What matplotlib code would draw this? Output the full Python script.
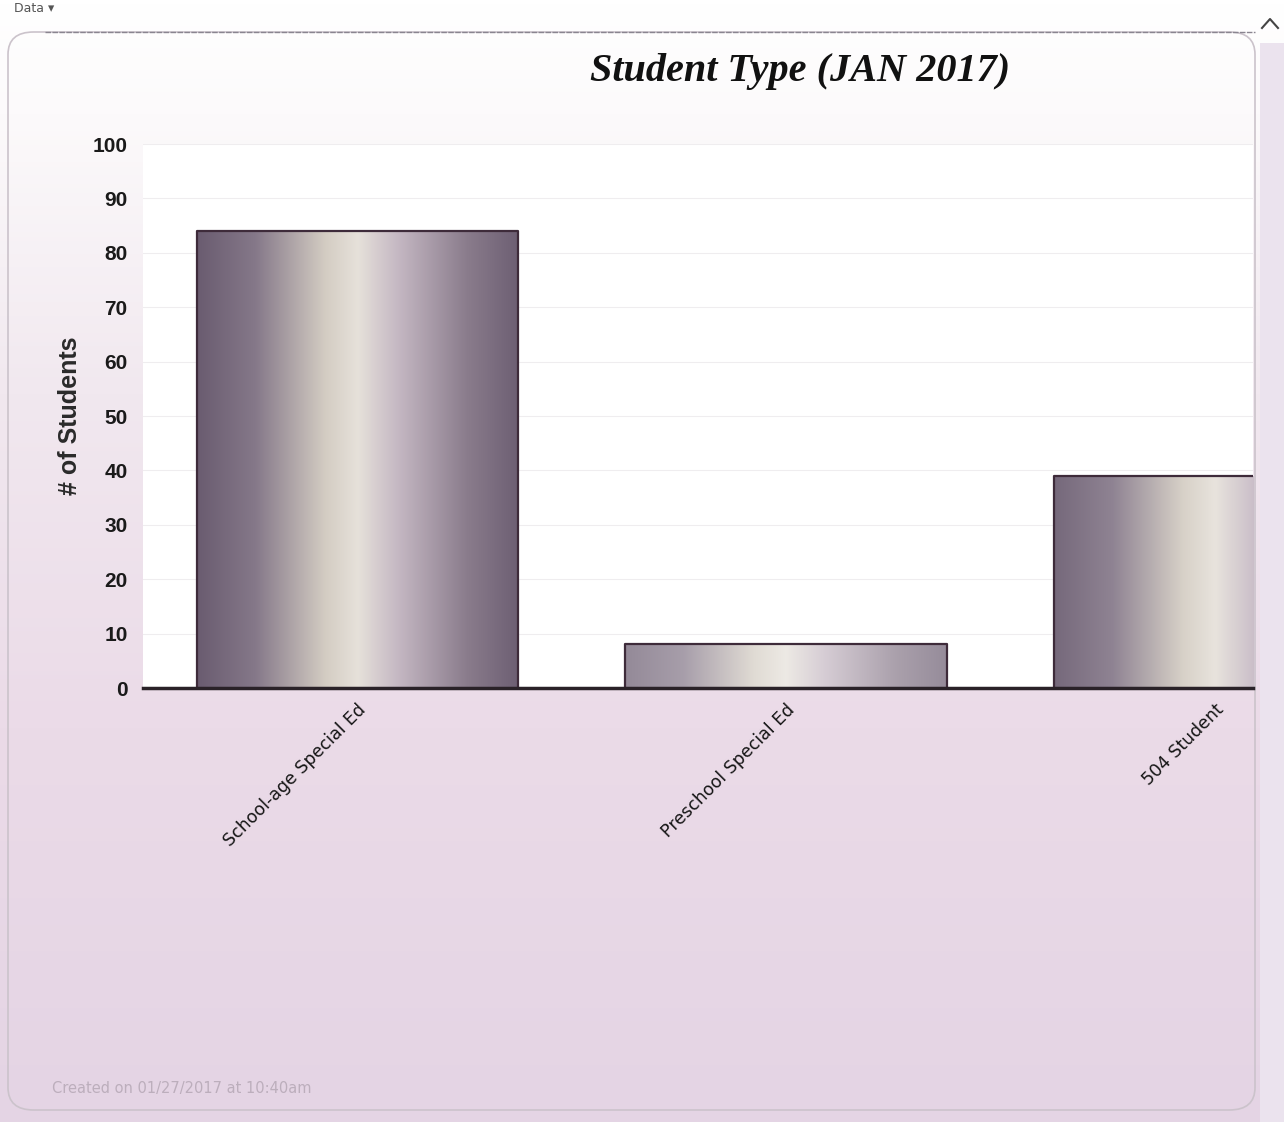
import numpy as np
import matplotlib
matplotlib.use("Agg")
import matplotlib.pyplot as plt
from matplotlib.colors import LinearSegmentedColormap
from matplotlib.patches import FancyBboxPatch, Rectangle

# Chart data
categories = ["School-age Special Ed", "Preschool Special Ed", "504 Student"]
counts = [84, 8, 39]
y_ticks = list(range(0, 101, 10))

title = "Student Type (JAN 2017)"
y_label = "# of Students"
footer = "Created on 01/27/2017 at 10:40am"

W, H = 1284, 1122
XLIM = (-0.5, 2.09)

# "cylinder" shading used by the bars
BAR_STOPS = [(0.0, "#6a5c70"), (0.18, "#857889"), (0.40, "#d4cdc3"),
             (0.50, "#e6e1da"), (0.62, "#c6b9c4"), (0.84, "#8a7c8c"),
             (1.0, "#6d5f73")]
bar_cmap = LinearSegmentedColormap.from_list("cyl", BAR_STOPS)
BAR_FADE = [0.0, 0.28, 0.08]


def px(x, y):
    # pixel coords (from top-left) -> figure fraction
    return x / W, 1 - y / H


fig = plt.figure(figsize=(W / 100, H / 100), dpi=100)

# Page background: white at the top, fading into the pinkish scan tint
bg = fig.add_axes([0, 0, 1, 1], zorder=-10)
grad = np.linspace(0, 1, 256).reshape(-1, 1)
bg_cmap = LinearSegmentedColormap.from_list(
    "bg", [(0, "#ffffff"), (0.10, "#fcfafb"), (0.35, "#f1e8ef"),
           (0.65, "#ebdbe8"), (1, "#e4d4e4")])
bg.imshow(grad, aspect="auto", cmap=bg_cmap, extent=[0, 1, 0, 1], origin="upper")
bg.set_xlim(0, 1)
bg.set_ylim(0, 1)
bg.set_axis_off()

# card outline and the scrollbar strip on the right
x0, y0 = px(8, 1110)
x1, y1 = px(1255, 32)
bg.add_patch(FancyBboxPatch((x0, y0), x1 - x0, y1 - y0,
                            boxstyle="round,pad=0,rounding_size=0.02",
                            facecolor="none", edgecolor="#cbc3cb", lw=1.2))
bg.plot([px(45, 0)[0], x1], [y1, y1], color="#8a8590", lw=1.0, ls=(0, (4, 1)))
sx, _ = px(1260, 0)
bg.add_patch(Rectangle((sx, 0), 1 - sx, y1 - 0.01, facecolor="#ebe3ee", edgecolor="none"))
cx = [px(1262, 0)[0], px(1270, 0)[0], px(1278, 0)[0]]
cy = [px(0, 28)[1], px(0, 19)[1], px(0, 28)[1]]
bg.plot(cx, cy, color="#444444", lw=1.5)

fig.text(*px(14, 9), "Data \u25be", fontsize=9, color="#555555", va="center")

# Main plot area
ax = fig.add_axes([143 / W, 1 - 688 / H, (1253 - 143) / W, (688 - 144) / H])
ax.set_facecolor("white")

x = np.arange(len(categories))
bars = ax.bar(x, counts, width=0.75, color="none", edgecolor="none", zorder=2)
for bar, fade in zip(bars, BAR_FADE):
    bx, by = bar.get_x(), bar.get_y()
    bw, bh = bar.get_width(), bar.get_height()
    g = bar_cmap(np.linspace(0, 1, 256))[:, :3]
    g = g + (1 - g) * fade
    img = ax.imshow(g.reshape(1, -1, 3), extent=[bx, bx + bw, by, by + bh],
                    aspect="auto", zorder=2, interpolation="bilinear")
    # clip to the part of the bar that lies inside the plot area
    vis = Rectangle((bx, by), min(bw, XLIM[1] - bx), bh, transform=ax.transData)
    img.set_clip_path(vis)
    ax.plot([bx, bx, bx + bw, bx + bw], [by, by + bh, by + bh, by],
            color="#3e2b3a", lw=1.6, zorder=3)

ax.set_xlim(*XLIM)
ax.set_ylim(0, 100)
ax.set_yticks(y_ticks)
ax.yaxis.grid(True, color="#efedef", lw=0.8)
ax.set_axisbelow(True)
ax.axhline(0, color="#2a2228", lw=2.5, zorder=4, clip_on=False)
for s in ax.spines.values():
    s.set_visible(False)

ax.tick_params(axis="y", length=0, pad=11, labelsize=15, labelcolor="#1a1a1a")
for lbl in ax.get_yticklabels():
    lbl.set_fontweight("bold")
    lbl.set_family("Liberation Sans")

ax.set_xticks(x)
ax.set_xticklabels(categories, rotation=45, ha="right", va="top",
                   rotation_mode="anchor", fontsize=12.5, color="#151515")
ax.tick_params(axis="x", length=0, pad=9)

ax.set_ylabel(y_label, fontsize=18, fontweight="bold", color="#2a2a2a",
              family="Liberation Sans")
ax.yaxis.set_label_coords((82 - 143) / (1253 - 143), 0.5)

fig.text(*px(800, 72), title, ha="center", va="center", fontsize=29,
         family="Liberation Serif", style="italic", fontweight="bold", color="#111111")
fig.text(*px(52, 1088), footer, ha="left", va="center", fontsize=10.5, color="#bcaebc")

fig.savefig("out.png", dpi=100)
